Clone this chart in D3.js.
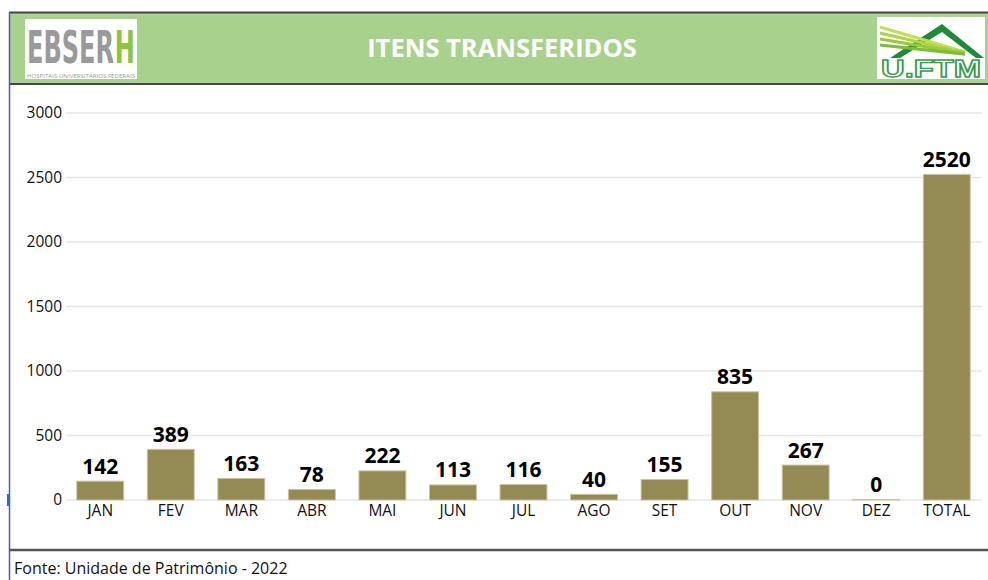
<!DOCTYPE html>
<html><head><meta charset="utf-8">
<script src="https://cdn.jsdelivr.net/npm/d3@7"></script>
<style>body{margin:0;background:#fff}svg{display:block}</style>
</head><body>
<script>
const categories = ["JAN","FEV","MAR","ABR","MAI","JUN","JUL","AGO","SET","OUT","NOV","DEZ","TOTAL"];
const values = [142,389,163,78,222,113,116,40,155,835,267,0,2520];
const yTicks = [0,500,1000,1500,2000,2500,3000];
const title = "ITENS TRANSFERIDOS";
const source = "Fonte: Unidade de Patrimônio - 2022";

const W = 988, H = 580;
const svg = d3.select("body").append("svg").attr("width", W).attr("height", H);
const font = "'Open Sans', sans-serif";

// header band
svg.append("rect").attr("x", 9).attr("y", 12).attr("width", W - 9).attr("height", 72).attr("fill", "#A9D18E");
svg.append("line").attr("x1", 9).attr("x2", W).attr("y1", 12.5).attr("y2", 12.5).attr("stroke", "#444").attr("stroke-width", 2);
svg.append("line").attr("x1", 9).attr("x2", W).attr("y1", 84).attr("y2", 84).attr("stroke", "#444").attr("stroke-width", 2);
svg.append("text").attr("x", 502).attr("y", 57).attr("text-anchor", "middle")
  .attr("font-family", font).attr("font-weight", 700).attr("font-size", 25.5).attr("fill", "#fff").text(title);

// EBSERH logo
const eb = svg.append("g");
eb.append("rect").attr("x", 25).attr("y", 19).attr("width", 112).attr("height", 60).attr("fill", "#fff");
const bigFont = "'Liberation Sans Narrow','DejaVu Sans Condensed',sans-serif";
const ebg = eb.append("g");
const t1 = ebg.append("text").attr("x", 0).attr("y", 0).attr("font-family", bigFont)
  .attr("font-weight", 700).attr("font-size", 36).attr("fill", "#9a9a9a").text("EBSER");
const w1 = t1.node().getComputedTextLength();
const t2 = ebg.append("text").attr("x", w1 + 1).attr("y", 0).attr("font-family", bigFont)
  .attr("font-weight", 700).attr("font-size", 36).attr("fill", "#8cc63e").text("H");
const wTot = w1 + 1 + t2.node().getComputedTextLength();
ebg.attr("transform", `translate(27,63) scale(${108 / wTot},1.22)`);
eb.append("text").attr("x", 27).attr("y", 78).attr("font-family", font).attr("font-size", 5).attr("fill", "#999")
  .attr("textLength", 108).attr("lengthAdjust", "spacingAndGlyphs").text("HOSPITAIS UNIVERSITÁRIOS FEDERAIS");

// UFTM logo
const uf = svg.append("g");
uf.append("rect").attr("x", 877).attr("y", 17).attr("width", 108).attr("height", 62).attr("fill", "#fff");
uf.append("path").attr("d", "M890,58 L942,24 L984,58 L976,58 L942,32 L900,58 Z").attr("fill", "#1e8a3a");
[[0,"#c2df5a"],[6,"#b0d546"],[12,"#98ca3e"],[18,"#7dbb3a"]].forEach(([o,c]) => {
  uf.append("path").attr("d", `M880,${27+o} L965,${52+o*0.12}`).attr("stroke", c).attr("stroke-width", 3.2).attr("fill", "none");
});
uf.append("text").attr("x", 931).attr("y", 77).attr("text-anchor", "middle").attr("font-family", "'Liberation Sans',sans-serif")
  .attr("font-weight", 700).attr("font-size", 23).attr("fill", "#fff").attr("stroke", "#3a9a4a").attr("stroke-width", 1.3)
  .attr("textLength", 100).attr("lengthAdjust", "spacingAndGlyphs").text("U.FTM");

// left border and bottom line
svg.append("line").attr("x1", 9.5).attr("x2", 9.5).attr("y1", 12).attr("y2", H).attr("stroke", "#5a4fcf").attr("stroke-width", 1.5);
svg.append("rect").attr("x", 7).attr("y", 494).attr("width", 2).attr("height", 12).attr("fill", "#1f6fd1");
svg.append("line").attr("x1", 9).attr("x2", W).attr("y1", 550).attr("y2", 550).attr("stroke", "#555").attr("stroke-width", 2.5);
svg.append("text").attr("x", 14).attr("y", 574).attr("font-family", font).attr("font-size", 16).attr("fill", "#111").text(source);

// chart
const x = d3.scaleBand().domain(categories).range([65, 982]).paddingInner(0.335).paddingOuter(0.167);
const y = d3.scaleLinear().domain([0, 3000]).range([500, 113]);

const grid = svg.append("g");
grid.selectAll("line").data(yTicks).join("line")
  .attr("x1", 66).attr("x2", 982).attr("y1", d => y(d)).attr("y2", d => y(d))
  .attr("stroke", "#e6e6e6").attr("stroke-width", 1.5);

const yAxis = svg.append("g").attr("transform", "translate(66,0)")
  .call(d3.axisLeft(y).tickValues(yTicks).tickSize(0).tickPadding(4).tickFormat(d3.format("d")));
yAxis.select(".domain").remove();
yAxis.selectAll("text").attr("font-family", font).attr("font-size", 15.5).attr("fill", "#111");

const xAxis = svg.append("g").attr("transform", "translate(0,500)")
  .call(d3.axisBottom(x).tickSize(0).tickPadding(3));
xAxis.select(".domain").remove();
xAxis.selectAll("text").attr("font-family", font).attr("font-size", 15.5).attr("fill", "#111").attr("dy", "0.85em");

svg.append("g").selectAll("rect").data(values).join("rect")
  .attr("x", (d, i) => x(categories[i])).attr("width", x.bandwidth())
  .attr("y", d => y(d) - 0.5).attr("height", d => y(0) - y(d) + 0.5)
  .attr("fill", "#948A54").attr("stroke", "#c9c3a0").attr("stroke-width", 1);

svg.append("g").selectAll("text").data(values).join("text")
  .attr("x", (d, i) => x(categories[i]) + x.bandwidth() / 2).attr("y", d => y(d) - 8)
  .attr("text-anchor", "middle").attr("font-family", font).attr("font-weight", 700).attr("font-size", 21).attr("fill", "#000")
  .text(d => d);
</script>
</body></html>
